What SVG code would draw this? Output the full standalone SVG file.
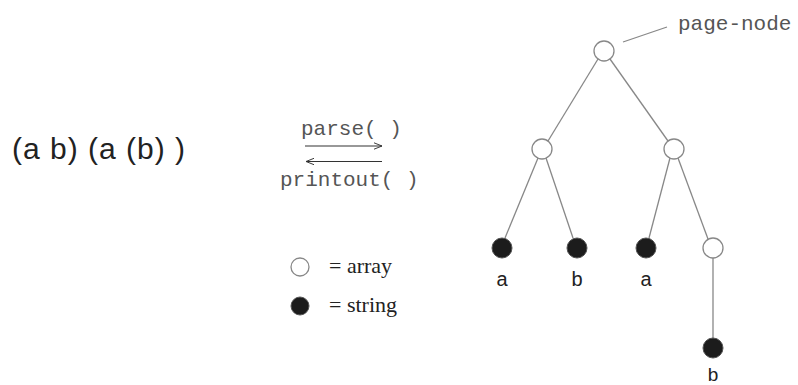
<svg xmlns="http://www.w3.org/2000/svg" width="798" height="385" viewBox="0 0 798 385">
<defs>
<marker id="ah" viewBox="0 0 10 10" refX="10" refY="5" markerWidth="8" markerHeight="8" orient="auto-start-reverse" markerUnits="userSpaceOnUse">
<path d="M0,1 L10,5 L0,9" fill="none" stroke="#333" stroke-width="1.2"/>
</marker>
</defs>
<style>
.open{fill:#fff;stroke:#888;stroke-width:1.3}
.fill{fill:#1c1c1c;stroke:#555;stroke-width:1}
.edge{stroke:#888;stroke-width:1.3;fill:none}
.mono{font-family:"Liberation Mono","DejaVu Sans Mono",monospace;font-size:21px;fill:#555}
.sans{font-family:"Liberation Sans",Arial,sans-serif;fill:#222}
.serif{font-family:"Liberation Serif","Times New Roman",serif;font-size:22px;fill:#222}
</style>
<rect width="798" height="385" fill="#fff"/>
<text class="sans" x="12" y="159" font-size="30" textLength="173" lengthAdjust="spacing">(a b) (a (b) )</text>
<g id="ops">
<text class="mono" x="301" y="135">parse( )</text>
<line x1="305" y1="146" x2="382" y2="146" stroke="#333" stroke-width="1.2" marker-end="url(#ah)"/>
<line x1="306" y1="161.5" x2="382" y2="161.5" stroke="#333" stroke-width="1.2" marker-start="url(#ah)"/>
<text class="mono" x="280" y="186">printout( )</text>
</g>
<g id="legend">
<circle class="open" cx="300" cy="267" r="9"/>
<text class="serif" x="329" y="273">= array</text>
<circle class="fill" cx="300" cy="306" r="9"/>
<text class="serif" x="329" y="312">= string</text>
</g>
<g id="connectors">
<line class="edge" x1="598" y1="59" x2="548" y2="141"/>
<line class="edge" x1="610" y1="59" x2="668" y2="141"/>
<line class="edge" x1="538" y1="158" x2="505" y2="238"/>
<line class="edge" x1="546" y1="158" x2="573" y2="238"/>
<line class="edge" x1="670" y1="158" x2="649" y2="238"/>
<line class="edge" x1="678" y1="158" x2="708" y2="239"/>
<line class="edge" x1="713" y1="258" x2="713" y2="338"/>
<line class="edge" x1="623" y1="42" x2="667" y2="27"/>
</g>
<g id="root"><circle class="open" cx="604" cy="51" r="10"/></g>
<g id="label-page-node"><text class="mono" x="678" y="30" font-size="21.5">page-node</text></g>
<g id="arr-left"><circle class="open" cx="542" cy="149" r="10"/></g>
<g id="arr-right"><circle class="open" cx="674" cy="149" r="10"/></g>
<g id="str-a1"><circle class="fill" cx="502" cy="248" r="10"/><text class="sans" x="502" y="286" font-size="20" text-anchor="middle">a</text></g>
<g id="str-b1"><circle class="fill" cx="577" cy="248" r="10"/><text class="sans" x="577" y="286" font-size="20" text-anchor="middle">b</text></g>
<g id="str-a2"><circle class="fill" cx="646" cy="248" r="10"/><text class="sans" x="646" y="286" font-size="20" text-anchor="middle">a</text></g>
<g id="arr-inner"><circle class="open" cx="713" cy="248" r="10"/></g>
<g id="str-b2"><circle class="fill" cx="713" cy="348" r="10"/><text class="sans" x="713" y="381" font-size="19" text-anchor="middle">b</text></g>
</svg>
